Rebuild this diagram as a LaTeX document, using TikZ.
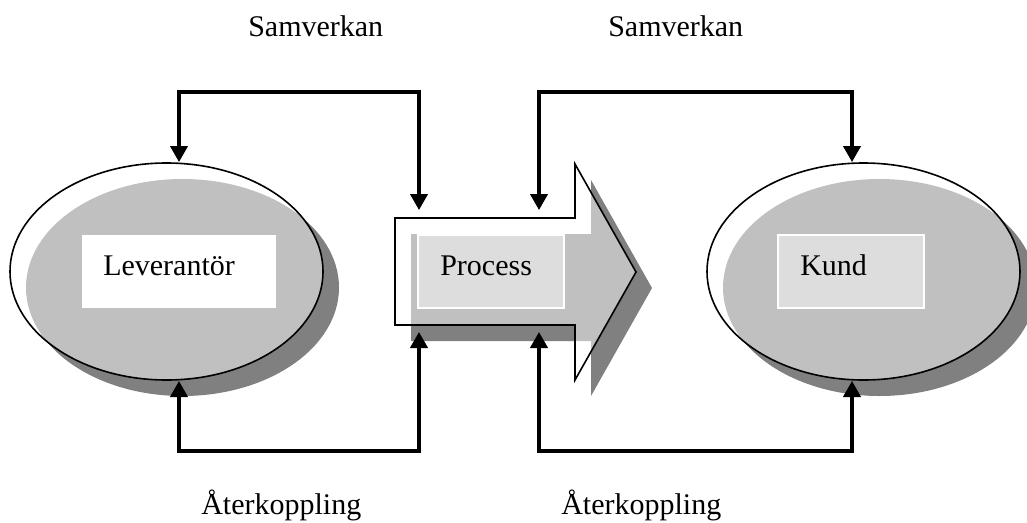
\documentclass[tikz,border=0pt]{standalone}
\usepackage{fontspec}
\setmainfont{Liberation Serif}
\usetikzlibrary{arrows.meta,shapes.geometric}
\definecolor{dropgray}{HTML}{808080}
\definecolor{bodygray}{HTML}{C0C0C0}
\definecolor{boxgray}{HTML}{DDDDDD}
% outline of the process arrow, in picture units
\newcommand\procoutline{(395,218) -- (575,218) -- (575,164) -- (636,272) -- (575,380) -- (575,325) -- (395,325) -- cycle}
\begin{document}
\begin{tikzpicture}[x=0.75pt,y=-0.75pt,
  every node/.style={font=\fontsize{22.5pt}{27pt}\selectfont},
  oval/.style={ellipse,draw,line width=1.2pt,inner sep=0pt,outer sep=0pt,
    minimum width=234.75pt,minimum height=162.75pt},
  label/.style={anchor=base west,inner sep=0pt},
  whitebox/.style={rectangle,fill=white,inner sep=0pt,minimum width=145.5pt,minimum height=54.75pt},
  palebox/.style={rectangle,fill=boxgray,draw=white,line width=1.1pt,inner sep=0pt,minimum width=109.5pt,minimum height=54.75pt},
  conn/.style={line width=2.3pt,line join=miter,
    {Triangle[width=13pt,length=12pt]}-{Triangle[width=13pt,length=12pt]}}]
\useasboundingbox (0,0) rectangle (1027,522);

% supplier ellipse with its drop shadow
\fill[dropgray] (182.5,287.5) ellipse [x radius=156.5,y radius=108.5];
\fill[white] (166.5,271.5) ellipse [x radius=156.5,y radius=108.5];
\begin{scope}
  \clip (166.5,271.5) ellipse [x radius=156.5,y radius=108.5];
  \fill[bodygray] (182.5,287.5) ellipse [x radius=156.5,y radius=108.5];
\end{scope}
\node[oval] (lev) at (166.5,271.5) {};

% customer ellipse with its drop shadow
\fill[dropgray] (879.5,287.5) ellipse [x radius=156.5,y radius=108.5];
\fill[white] (863.5,271.5) ellipse [x radius=156.5,y radius=108.5];
\begin{scope}
  \clip (863.5,271.5) ellipse [x radius=156.5,y radius=108.5];
  \fill[bodygray] (879.5,287.5) ellipse [x radius=156.5,y radius=108.5];
\end{scope}
\node[oval] (kund) at (863.5,271.5) {};

% process arrow with its drop shadow
\fill[dropgray,shift={(16,16)}] \procoutline;
\fill[white] \procoutline;
\begin{scope}
  \clip \procoutline;
  \fill[bodygray,shift={(16,16)}] \procoutline;
\end{scope}
\draw[line width=1.2pt,line join=miter] \procoutline;

% label boxes
\node[whitebox] (levbox) at (179,271.5) {};
\node[palebox] (procbox) at (491,271.5) {};
\node[palebox] (kundbox) at (851,271.5) {};
\node[label] (levtext) at (103,275) {Leverantör};
\node[label] (proctext) at (440,275) {Process};
\node[label] (kundtext) at (800,275) {Kund};

% interaction and feedback loops
\coordinate (top) at (0,92);
\coordinate (bot) at (0,451);
\coordinate (levin) at (179,162);
\coordinate (procinl) at (419,210);
\coordinate (procinr) at (539,210);
\coordinate (kundin) at (852,162);
\coordinate (levout) at (179,381);
\coordinate (procoutl) at (419,332);
\coordinate (procoutr) at (539,332);
\coordinate (kundout) at (852,381);
\draw[conn] (levin) -- (levin |- top) -| (procinl);
\draw[conn] (procinr) -- (procinr |- top) -| (kundin);
\draw[conn] (levout) -- (levout |- bot) -| (procoutl);
\draw[conn] (procoutr) -- (procoutr |- bot) -| (kundout);

% loop captions
\node[label] (samv1) at (248,36) {Samverkan};
\node[label] (samv2) at (608,36) {Samverkan};
\node[label] (ater1) at (201,514) {Återkoppling};
\node[label] (ater2) at (561,514) {Återkoppling};
\end{tikzpicture}
\end{document}
